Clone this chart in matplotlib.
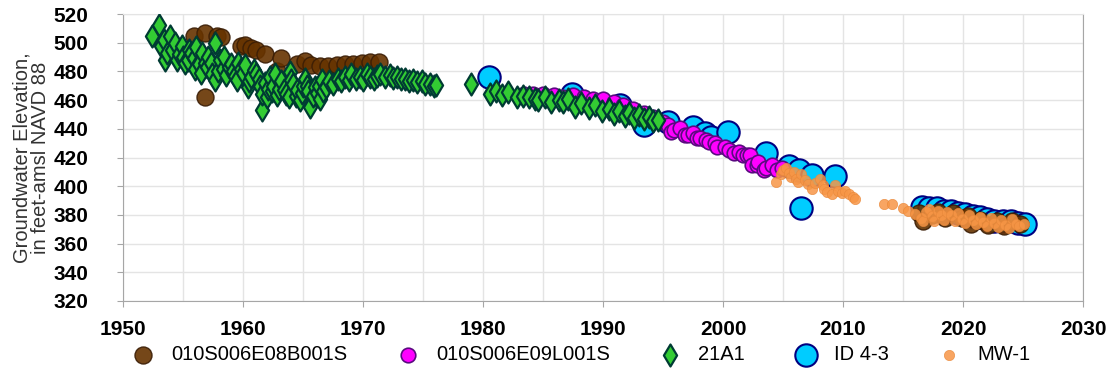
import matplotlib
matplotlib.use("Agg")
import matplotlib.pyplot as plt
from matplotlib.ticker import MultipleLocator

# 010S006E08B001S
b_year = [1955.9, 1956.8, 1956.8, 1957.8, 1958.2, 1959.8, 1960.2, 1960.7, 1961.1, 1961.8,
          1962.8, 1963.2, 1964.5, 1965.2, 1965.7, 1966.4, 1967.1, 1967.8, 1968.5, 1969.2,
          1969.9, 1970.6, 1971.3,
          2016.3, 2016.7, 2017.4, 2017.9, 2018.5, 2019.2, 2019.9, 2020.4, 2020.7, 2021.4,
          2022.1, 2022.8, 2023.4, 2024.1, 2024.75]
b_elev = [504.5, 462, 506.5, 505, 504, 498, 498.5, 496.5, 495, 492,
          480, 489, 485.5, 487.5, 484.5, 484, 484, 484.5, 485, 485.5,
          486, 486.5, 486.5,
          381, 375.5, 380, 382, 378, 381, 377.5, 379, 374, 376.5,
          373, 375.5, 372, 376, 374]

# 010S006E09L001S
m_year = [1983.4, 1984.2, 1985.0, 1985.9, 1986.7, 1987.5, 1988.4, 1989.2, 1990.0, 1990.9,
          1991.7, 1992.5, 1993.4, 1994.2, 1995.0, 1995.4, 1995.7, 1995.9, 1996.4, 1996.8,
          1997.1, 1997.5, 1997.8, 1998.1, 1998.6, 1998.8, 1999.3, 1999.5, 2000.2, 2000.5,
          2000.9, 2001.3, 2001.7, 2002.0, 2002.25, 2002.4, 2002.8, 2002.9, 2003.4, 2003.6,
          2004.1, 2004.5, 2004.9]
m_elev = [464.5, 464.5, 464, 463.5, 462.5, 463.5, 462, 460.5, 461, 459,
          456.5, 454, 451, 448.5, 445, 442.5, 438, 439, 440.5, 435.5,
          435.5, 437, 433.5, 433.5, 432, 431, 430, 427.5, 427.5, 425,
          423, 424, 421.5, 421.5, 421.5, 415, 415, 417, 411.5, 413,
          414.5, 411.5, 412.5]

# 21A1
g_year = [1952.4, 1953.0, 1953.2, 1953.4, 1953.5, 1953.7, 1953.9, 1954.1, 1954.3, 1954.5,
          1954.7, 1954.9, 1955.0, 1955.2, 1955.4, 1955.5, 1955.7, 1955.9, 1956.0, 1956.1,
          1956.3, 1956.5, 1956.6, 1956.8, 1957.0, 1957.1, 1957.3, 1957.4, 1957.7, 1957.7,
          1957.9, 1958.1, 1958.3, 1958.4, 1958.6, 1958.8, 1959.0, 1959.2, 1959.3, 1959.5,
          1959.6, 1959.8, 1960.0, 1960.2, 1960.4, 1960.5, 1960.7, 1960.9, 1961.1, 1961.3,
          1961.4, 1961.6, 1961.6, 1961.8, 1962.0, 1962.1, 1962.25, 1962.4, 1962.5, 1962.7,
          1962.8, 1963.0, 1963.2, 1963.4, 1963.6, 1963.8, 1963.9, 1964.0, 1964.2, 1964.4,
          1964.5, 1964.75, 1964.9, 1965.0, 1965.2, 1965.3, 1965.4, 1965.6, 1965.8, 1966.0,
          1966.2, 1966.3, 1966.4, 1966.55, 1966.7, 1966.9,
          1967.2, 1967.5, 1967.9, 1968.2, 1968.5, 1968.8, 1969.0, 1969.4, 1969.75, 1970.0,
          1970.3, 1970.6, 1970.9, 1971.2, 1971.4, 1971.8, 1972.25, 1972.5, 1972.8, 1973.2,
          1973.5, 1973.8, 1974.2, 1974.5, 1974.9, 1975.2, 1975.6, 1975.9, 1976.1,
          1979.0, 1980.6, 1981.1, 1981.6, 1982.1, 1982.8, 1983.3, 1983.8, 1984.3, 1984.6,
          1985.2, 1985.7, 1986.3, 1986.7, 1987.1, 1987.7, 1988.2, 1988.8, 1989.3, 1989.9,
          1990.5, 1990.9, 1991.3, 1991.8, 1992.2, 1992.6, 1993.0, 1993.4, 1993.8, 1994.2,
          1994.6]
g_elev = [505, 512, 498, 502, 488, 493, 505, 495, 500, 488,
          492, 498, 490, 486, 488, 495, 492.5, 489, 482, 497,
          485, 479, 493, 486, 483, 490, 486, 478, 499.5, 474,
          480, 488, 482, 490, 477.5, 483, 485.5, 480, 477, 474,
          486, 482, 479, 484.5, 469, 473, 476, 481, 478.5, 475,
          470, 453, 464.5, 472, 462, 468, 476, 466, 470, 478,
          463.5, 468, 473, 467, 464.5, 462, 479.5, 474, 471, 463,
          467, 460, 465, 470, 475, 470, 466, 455.5, 463, 469,
          465, 470, 461, 474, 466, 469,
          473, 471.5, 475, 473, 476, 474, 478.5, 475, 476, 474,
          478.5, 476, 475, 477, 478.5, 476, 477.5, 475.5, 476, 474.5,
          475, 473.5, 474, 472.5, 473, 471.5, 471.5, 470, 470.5,
          471, 464.5, 466, 463.5, 465.5, 462.5, 463, 462, 461, 460,
          462, 459, 460, 458.5, 461, 455.5, 458, 454.5, 456.5, 452.5,
          454, 450.5, 452.5, 449, 451, 447.5, 449.5, 446.5, 448, 445.5,
          446]

# ID 4-3
c_year = [1980.5, 1987.4, 1991.4, 1993.4, 1995.4, 1997.5, 1998.5, 1999.0, 2000.4, 2003.6,
          2005.5, 2006.3, 2006.5, 2007.4, 2009.3,
          2016.6, 2017.2, 2017.8, 2018.4, 2019.0, 2019.6, 2020.2, 2020.8, 2021.4, 2022.0,
          2022.6, 2023.3, 2024.0, 2024.6, 2025.2]
c_elev = [476, 464, 456.5, 443, 445, 441.5, 437, 434.5, 437.5, 423,
          414, 411.5, 385, 408, 407,
          385.5, 385, 384.5, 383, 382.5, 381, 380.5, 379.5, 378.5, 377,
          376, 375.5, 376, 374.5, 373.5]

# MW-1
o_year = [2004.4, 2004.8, 2005.0, 2005.25, 2005.5, 2005.7, 2005.9, 2006.1, 2006.25, 2006.5,
          2006.8, 2007.1, 2007.4, 2007.7, 2008.1, 2008.3, 2008.4, 2008.7, 2009.1, 2009.3,
          2009.6, 2009.9, 2010.2, 2010.5, 2010.8, 2011.0,
          2013.4, 2014.1, 2015.0, 2015.4, 2016.0,
          2016.5, 2016.7, 2016.9, 2017.2, 2017.4, 2017.6, 2017.9, 2018.2, 2018.4, 2018.7,
          2019.0, 2019.3, 2019.6, 2019.9, 2020.2, 2020.5, 2020.8, 2021.1, 2021.4, 2021.7,
          2022.0, 2022.3, 2022.6, 2022.9, 2023.2, 2023.5, 2023.8, 2024.1, 2024.4, 2024.7,
          2025.1]
o_elev = [403, 408.5, 411, 413, 409, 406.5, 410, 405, 403, 408.5,
          404, 401.5, 398, 402, 405, 401, 398, 396, 394.5, 400.5,
          397, 395, 397, 394.5, 392.5, 391,
          387.5, 387.5, 385, 383, 380.5,
          378, 375.5, 382, 384, 379, 376, 383, 380, 376.5, 382,
          380, 376, 381, 377, 374.5, 380, 376.5, 373.5, 378.5, 375,
          372.5, 377.5, 374.5, 371.5, 376.5, 373, 371, 377, 374, 372,
          373.5]

plt.rcParams["font.family"] = ["Liberation Sans", "DejaVu Sans"]

fig = plt.figure(figsize=(11.09, 3.85), dpi=100)
ax = fig.add_axes([0.1109, 0.2182, 0.8657, 0.7454])

s_c = ax.scatter(c_year, c_elev, s=260, marker="o", facecolor="#00ccff",
                 edgecolor="#000080", linewidth=1.5, zorder=2, label="ID 4-3")
s_b = ax.scatter(b_year, b_elev, s=150, marker="o", facecolor="#663300",
                 edgecolor="#3a1d05", linewidth=1, alpha=0.9, zorder=3, label="010S006E08B001S")
s_m = ax.scatter(m_year, m_elev, s=110, marker="o", facecolor="#ff00ff",
                 edgecolor="#5a0a80", linewidth=1.2, zorder=4, label="010S006E09L001S")
s_g = ax.scatter(g_year, g_elev, s=125, marker="d", facecolor="#33cc33",
                 edgecolor="#003b33", linewidth=1.6, zorder=5, label="21A1")
s_o = ax.scatter(o_year, o_elev, s=55, marker="o", facecolor="#f79646",
                 edgecolor="#e8883a", linewidth=0.5, alpha=0.85, zorder=6, label="MW-1")

ax.set_xlim(1950, 2030)
ax.set_ylim(320, 520)
ax.xaxis.set_major_locator(MultipleLocator(10))
ax.xaxis.set_minor_locator(MultipleLocator(5))
ax.yaxis.set_major_locator(MultipleLocator(20))
ax.grid(True, which="both", color="#e4e4e4", linewidth=1)
ax.set_axisbelow(True)

for side in ["left", "bottom", "right"]:
    ax.spines[side].set_color("#a6a6a6")
ax.spines["top"].set_color("#e4e4e4")

ax.tick_params(axis="both", which="major", length=4, color="#a6a6a6",
               labelsize=15)
ax.tick_params(axis="y", pad=21)
ax.tick_params(axis="x", pad=10)
ax.tick_params(axis="x", which="minor", length=0)
for lbl in ax.get_xticklabels() + ax.get_yticklabels():
    lbl.set_fontweight("bold")

ax.set_ylabel("Groundwater Elevation,\nin feet-amsl NAVD 88", fontsize=14.5,
              color="#333333", linespacing=1.0)
ax.yaxis.set_label_coords(-0.076, 0.5)

fig.legend(handles=[s_b, s_m, s_g, s_c, s_o], loc="center",
           bbox_to_anchor=(0.52, 0.078), ncol=5, frameon=False, fontsize=14.5,
           handletextpad=0.4, columnspacing=2.0, scatterpoints=1)

plt.savefig("out.png", dpi=100)
plt.close()
